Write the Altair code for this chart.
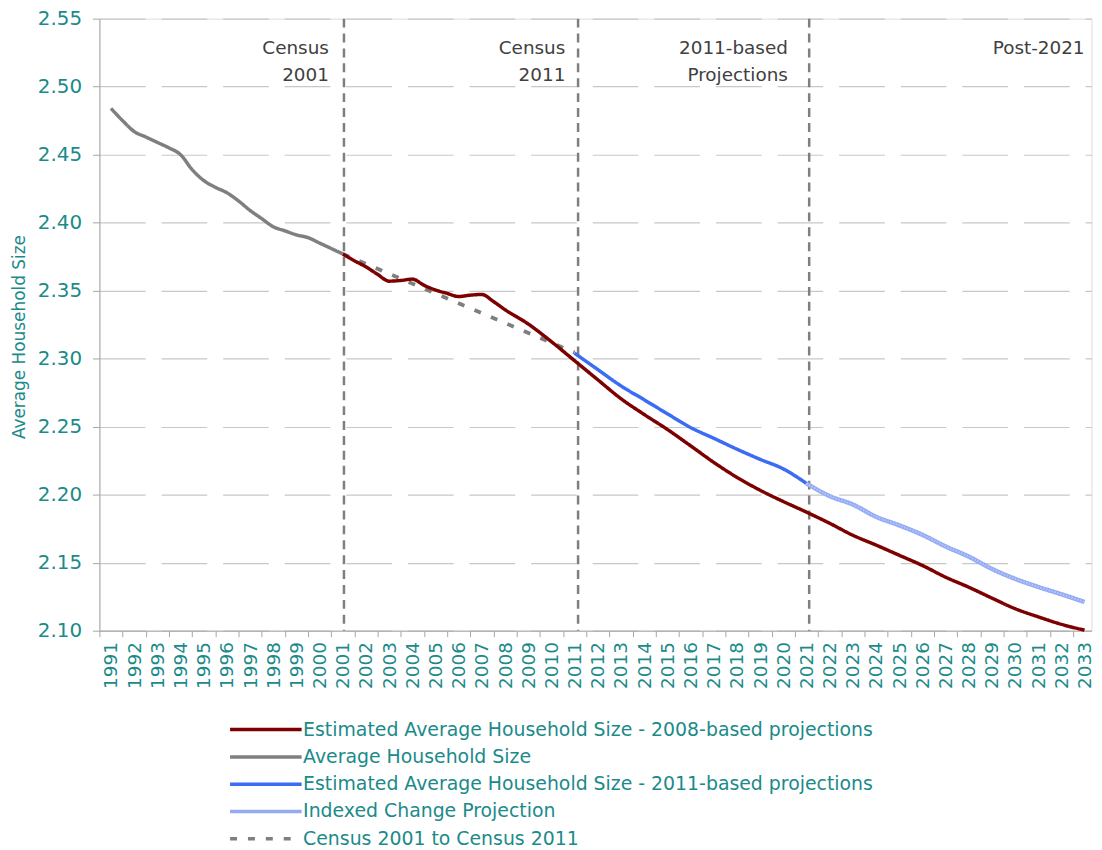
import altair as alt
import pandas as pd

TEAL = "#1b8a8a"

# ---- data ----
hist_years = [1991.0, 1991.5, 1992.0, 1992.5, 1993.0, 1993.5, 1994.0, 1994.5, 1995.0, 1995.5,
              1996.0, 1996.5, 1997.0, 1997.5, 1998.0, 1998.5, 1999.0, 1999.5, 2000.0, 2000.5, 2001.0]
hist_avg = [2.484, 2.475, 2.467, 2.463, 2.459, 2.455, 2.450, 2.439, 2.431, 2.426,
            2.422, 2.416, 2.409, 2.403, 2.397, 2.394, 2.391, 2.389, 2.385, 2.381, 2.377]

p2008_years = [2001.0, 2001.5, 2002.0, 2002.5, 2003.0, 2003.5, 2004.0, 2004.5, 2005.0, 2005.5,
               2006.0, 2006.5, 2007.0, 2007.5, 2008.0, 2009, 2010, 2011, 2012, 2013, 2014,
               2015, 2016, 2017, 2018, 2019, 2020, 2021, 2022, 2023, 2024, 2025, 2026, 2027,
               2028, 2029, 2030, 2031, 2032, 2033]
p2008_vals = [2.377, 2.372, 2.3675, 2.362, 2.357, 2.3575, 2.3585, 2.354, 2.3505, 2.348,
              2.3457, 2.3467, 2.3472, 2.342, 2.336, 2.3255, 2.3125, 2.2985, 2.2845, 2.2706, 2.259,
              2.248, 2.236, 2.2238, 2.2128, 2.2033, 2.195, 2.1872, 2.179, 2.1702, 2.163, 2.1555,
              2.148, 2.1394, 2.132, 2.124, 2.1162, 2.1102, 2.1047, 2.1004]

p2011_years = [2011, 2012, 2013, 2014, 2015, 2016, 2017, 2018, 2019, 2020, 2021]
p2011_vals = [2.304, 2.292, 2.280, 2.2698, 2.2595, 2.2494, 2.2415, 2.2335, 2.226, 2.219, 2.2083]

idx_years = [2021, 2022, 2023, 2024, 2025, 2026, 2027, 2028, 2029, 2030, 2031, 2032, 2033]
idx_vals = [2.2083, 2.199, 2.1928, 2.1838, 2.1775, 2.1705, 2.162, 2.1545, 2.1455, 2.1382,
            2.1322, 2.1268, 2.1211]

census_years = [2001, 2011]
census_vals = [2.377, 2.3045]

marker_years = [2001.05, 2011.15, 2021.12]
note_labels = ["Census\n2001", "Census\n2011", "2011-based\nProjections", "Post-2021"]
note_x = [2000.4, 2010.6, 2020.2, 2033.0]
note_y = [2.5237, 2.5237, 2.5237, 2.5237]

x_labels = list(range(1991, 2034))
y_ticks = [2.10, 2.15, 2.20, 2.25, 2.30, 2.35, 2.40, 2.45, 2.50, 2.55]

S_2008 = "Estimated Average Household Size - 2008-based projections"
S_AVG = "Average Household Size"
S_2011 = "Estimated Average Household Size - 2011-based projections"
S_IDX = "Indexed Change Projection"
S_CEN = "Census 2001 to Census 2011"
series_order = [S_2008, S_AVG, S_2011, S_IDX, S_CEN]
series_colors = ["#7d0000", "#7f7f7f", "#3a6cf4", "#93aaf5", "#7f7f7f"]
series_dash = [[1, 0], [1, 0], [1, 0], [1, 0], [7, 11]]

frames = [
    pd.DataFrame({"year": hist_years, "value": hist_avg, "series": S_AVG}),
    pd.DataFrame({"year": p2008_years, "value": p2008_vals, "series": S_2008}),
    pd.DataFrame({"year": p2011_years, "value": p2011_vals, "series": S_2011}),
    pd.DataFrame({"year": idx_years, "value": idx_vals, "series": S_IDX}),
    pd.DataFrame({"year": census_years, "value": census_vals, "series": S_CEN}),
]
df = pd.concat(frames, ignore_index=True)

STEP = 23.33
x_scale = alt.Scale(domain=[1990.5, 2033.3], nice=False, zero=False)
y_scale = alt.Scale(domain=[2.10, 2.55], nice=False, zero=False)

x_axis = alt.Axis(
    values=x_labels, format="d", labelAngle=-90, title=None, grid=False,
    tickOffset=-STEP / 2, labelOffset=STEP / 2, tickSize=6, tickColor="#a6a6a6",
    domainColor="#a6a6a6", labelColor=TEAL, labelFont="DejaVu Sans", labelFontSize=18.5,
    labelPadding=5, labelOverlap=False, labelFlush=False, labelBound=False,
    labelSeparation=0,
)
y_axis = alt.Axis(
    values=y_ticks, format=".2f", title="Average Household Size", grid=True,
    gridDash=[46, 16], gridColor="#c8c8c8", gridWidth=1.2, tickSize=7,
    tickColor="#a6a6a6", domainColor="#a6a6a6", labelColor=TEAL,
    labelFont="DejaVu Sans", labelFontSize=20, labelPadding=11,
    titleColor=TEAL, titleFont="DejaVu Sans", titleFontSize=17,
    titleFontWeight="normal", titlePadding=9, titleY=320, labelFlush=False,
    labelOverlap=False,
)
x_enc = alt.X("year:Q", scale=x_scale, axis=x_axis)
y_enc = alt.Y("value:Q", scale=y_scale, axis=y_axis)

# custom wide stroke path keeps the legend rows short
color_enc = alt.Color(
    "series:N",
    scale=alt.Scale(domain=series_order, range=series_colors),
    legend=alt.Legend(
        orient="none", legendX=128, legendY=706, title=None,
        symbolType="M-6,0L6,0", symbolSize=144, symbolOffset=30,
        symbolStrokeWidth=3.5, labelFont="DejaVu Sans",
        labelFontSize=19, labelColor=TEAL, labelOffset=28, rowPadding=7.5,
        padding=0, labelLimit=900, direction="vertical", columns=1,
    ),
)
dash_enc = alt.StrokeDash(
    "series:N",
    scale=alt.Scale(domain=series_order, range=series_dash),
    legend=None,
)

base = alt.Chart(df)

markers = alt.Chart(pd.DataFrame({"year": marker_years})).mark_rule(
    color="#7f7f7f", strokeWidth=2.5, strokeDash=[9, 6]
).encode(x=x_enc)

def series_layer(name, width=3.5):
    return base.transform_filter(alt.datum.series == name).mark_line(
        strokeWidth=width, interpolate="monotone"
    ).encode(x=x_enc, y=y_enc, color=color_enc, strokeDash=dash_enc)

cen = series_layer(S_CEN, 3.8)
red = series_layer(S_2008)
grey = series_layer(S_AVG)
blue = series_layer(S_2011)
idx = series_layer(S_IDX, 4.5)
idx_tex = base.transform_filter(alt.datum.series == S_IDX).mark_line(
    strokeWidth=2, interpolate="monotone", color="white", opacity=0.35, strokeDash=[1.5, 1.5]
).encode(x=x_enc, y=y_enc)

notes = alt.Chart(pd.DataFrame({"year": note_x, "value": note_y, "label": note_labels})).mark_text(
    align="right", baseline="alphabetic", lineBreak="\n", lineHeight=27,
    font="DejaVu Sans", fontSize=18.5, color="#404040"
).encode(x=x_enc, y=y_enc, text="label:N")

chart = alt.layer(markers, cen, red, grey, blue, idx, idx_tex, notes).properties(
    width=998.5, height=616,
    autosize=alt.AutoSizeParams(type="none"),
    padding={"left": 92, "top": 8, "right": 2.5, "bottom": 218},
).configure_view(stroke=None).configure(background="white").configure_axisX(
    labelOverlap=False
)

chart.save("out.html", embed_options={"renderer": "svg", "actions": False})
